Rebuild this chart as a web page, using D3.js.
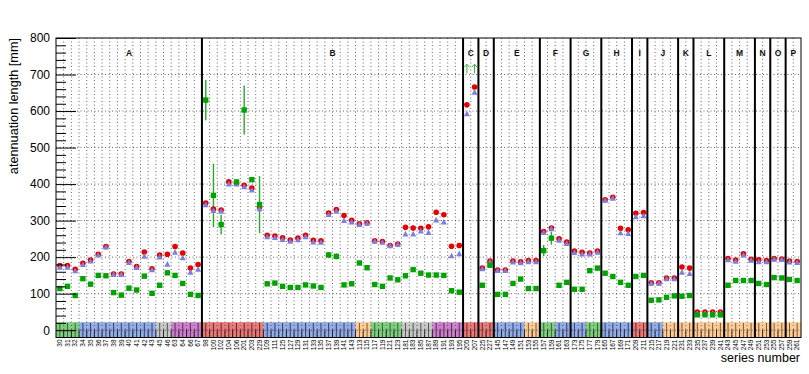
<!DOCTYPE html>
<html><head><meta charset="utf-8">
<script src="https://cdn.jsdelivr.net/npm/d3@7"></script>
<style>body{margin:0;background:#fff}svg{display:block;font-family:"Liberation Sans",Arial,Helvetica,sans-serif}</style>
</head><body><svg id="c" width="809" height="374"></svg>
<script>
const seriesNumbers = [30,31,32,34,35,36,37,38,39,40,41,42,43,45,46,63,64,66,67,
  98,100,102,104,106,201,203,229,109,111,125,127,129,131,133,135,137,139,141,143,113,115,117,119,121,123,181,183,185,187,189,191,193,195,
  205,207,225,227,145,147,149,151,153,155,157,159,161,163,173,175,177,179,165,167,169,171,209,211,215,217,219,221,231,233,235,237,239,241,243,245,247,249,251,253,255,257,259,261];
const groupNames = ["A","B","C","D","E","F","G","H","I","J","K","L","M","N","O","P"];
const groupSizes = [19,34,2,2,6,4,4,4,2,4,2,4,4,2,2,2];
const bandRuns = [["green",3],["blue",10],["gray",2],["purple",4],
  ["red",8],["blue",12],["orange",2],["green",4],["gray",4],["purple",4],
  ["red",2],["red",2],["blue",4],["orange",2],["green",2],["blue",2],["blue",2],["green",2],["blue",4],["red",2],
  ["blue",2],["orange",2],["orange",2],["orange",4],["orange",4],["orange",2],["orange",2],["orange",2]];
const redValues = [177,177,167,183,192,208,229,154,154,188,174,214,168,206,208,229,211,170,180,
  348,332,329,406,402,397,389,337,260,258,253,247,252,260,246,245,321,330,314,301,291,294,245,243,232,236,282,280,279,283,323,316,230,232,
  617,666,170,189,165,165,189,187,191,191,270,280,250,241,217,213,211,217,357,364,279,275,320,322,130,130,143,143,173,170,50,50,50,50,196,192,209,194,193,191,196,195,189,188];
const blueValues = [172,172,162,179,189,205,227,152,152,185,171,202,165,200,180,213,198,158,166,
  343,327,325,400,400,392,383,332,255,253,248,243,247,255,241,240,316,325,300,296,289,292,243,240,231,235,263,263,271,267,301,296,203,209,
  592,651,168,186,163,163,186,184,187,187,267,277,246,237,212,208,208,213,355,361,266,264,310,313,128,128,140,140,158,155,45,45,45,45,192,188,205,191,187,187,194,193,186,185];
const greenValues = [114,120,95,141,126,150,149,103,96,115,110,148,101,123,157,150,128,98,95,
  630,369,289,null,406,603,412,344,127,129,120,117,117,124,121,117,206,202,124,127,184,171,125,120,143,138,149,166,156,151,151,150,108,104,
  null,null,123,178,98,98,128,140,114,114,218,252,123,131,112,112,163,170,156,147,131,123,147,150,82,83,90,94,93,95,42,42,42,42,123,136,136,136,128,125,144,143,139,136];
const greenErrors = [0,0,0,0,0,0,0,0,0,0,0,0,0,0,0,0,0,0,0,
  55,87,27,0,0,67,0,78,0,0,0,0,0,0,0,0,8,8,0,0,0,0,0,0,0,0,0,0,0,0,0,0,0,0,
  0,0,0,8,0,0,0,0,0,0,15,18,0,0,0,0,0,0,0,0,0,0,0,0,0,0,0,0,0,0,0,0,0,0,0,0,0,0,0,0,0,0,0,0,0,0];
const greenOffscale = [205,207];
const yMajorTicks = [0,100,200,300,400,500,600,700,800];

const bandColors = {green:"#80cc80",blue:"#94acE4",gray:"#c8c8c8",purple:"#cc80cc",red:"#e87a7a",orange:"#ffcc99"};
const bandDark = {green:"#2f6a2f",blue:"#2f3f70",gray:"#555",purple:"#5a2a5a",red:"#6a2a2a",orange:"#7a5a30"};

const svg = d3.select("#c");
const L=56,R=801,T=38,B=337.5;
const idx = d3.range(seriesNumbers.length);
const x = d3.scaleBand().domain(idx).range([L,R]).padding(0);
const y = d3.scaleLinear().domain([-20,800]).range([B,T]);
const bw = x.bandwidth();

const bandType = [];
bandRuns.forEach(([c,n])=>{for(let k=0;k<n;k++)bandType.push(c);});

svg.append("g").selectAll("rect").data(idx).join("rect")
  .attr("x",i=>x(i)).attr("width",bw+0.3)
  .attr("y",y(22)).attr("height",B-y(22))
  .attr("fill",i=>bandColors[bandType[i]]);

const grid = svg.append("g").attr("stroke","#333").attr("stroke-width",0.75).attr("stroke-dasharray","1,2.5");
grid.selectAll("line.v").data(idx.slice(1)).join("line")
  .attr("x1",i=>x(i)).attr("x2",i=>x(i)).attr("y1",T).attr("y2",B);
grid.selectAll("line.h").data(yMajorTicks.slice(1,-1)).join("line")
  .attr("x1",L).attr("x2",R).attr("y1",d=>y(d)).attr("y2",d=>y(d));

const bm = svg.append("g");
bm.selectAll("line.c").data(idx).join("line")
  .attr("x1",i=>x(i)+bw/2).attr("x2",i=>x(i)+bw/2).attr("y1",y(20)).attr("y2",B)
  .attr("stroke",i=>bandDark[bandType[i]]).attr("stroke-width",1);
bm.selectAll("line.z").data(idx).join("line")
  .attr("x1",i=>x(i)+1).attr("x2",i=>x(i)+bw-1).attr("y1",y(0)).attr("y2",y(0))
  .attr("stroke",i=>bandDark[bandType[i]]).attr("stroke-width",0.8).attr("stroke-dasharray","1.5,1.5");

const ge = svg.append("g").attr("stroke","#1fae1f").attr("stroke-width",1.4);
ge.selectAll("line").data(idx.filter(i=>greenValues[i]!=null && greenErrors[i]>0)).join("line")
  .attr("x1",i=>x(i)+bw/2).attr("x2",i=>x(i)+bw/2)
  .attr("y1",i=>y(greenValues[i]-greenErrors[i])).attr("y2",i=>y(greenValues[i]+greenErrors[i]));

const arr = svg.append("g").attr("stroke","#33bb33").attr("stroke-width",1).attr("fill","none");
greenOffscale.forEach(s=>{
  const i = seriesNumbers.indexOf(s), cx = x(i)+bw/2;
  arr.append("line").attr("x1",cx).attr("x2",cx).attr("y1",y(703)).attr("y2",y(728));
  arr.append("path").attr("d",`M${cx-2.5},${y(720)}L${cx},${y(728)}L${cx+2.5},${y(720)}`);
});

svg.append("g").selectAll("circle").data(idx.filter(i=>redValues[i]!=null)).join("circle")
  .attr("cx",i=>x(i)+bw/2).attr("cy",i=>y(redValues[i])).attr("r",2.8).attr("fill","#e60000");
svg.append("g").selectAll("path").data(idx.filter(i=>blueValues[i]!=null)).join("path")
  .attr("d",i=>{const cx=x(i)+bw/2,cy=y(blueValues[i]);return `M${cx},${cy-3.4}L${cx+3},${cy+2.3}L${cx-3},${cy+2.3}Z`;})
  .attr("fill","#7e7ee0");
svg.append("g").selectAll("rect").data(idx.filter(i=>greenValues[i]!=null)).join("rect")
  .attr("x",i=>x(i)+bw/2-2.7).attr("y",i=>y(greenValues[i])-2.7).attr("width",5.4).attr("height",5.4)
  .attr("fill","#00a300");

let acc=0;
const sep = svg.append("g");
groupSizes.forEach((n,g)=>{
  const x0 = x(acc), x1 = acc+n<idx.length ? x(acc+n) : R;
  svg.append("text").attr("x",(x0+x1)/2).attr("y",56).attr("text-anchor","middle")
    .attr("font-size",8.5).attr("font-weight","bold").attr("fill","#111").text(groupNames[g]);
  if(g>0) sep.append("line").attr("x1",x0).attr("x2",x0).attr("y1",T).attr("y2",B).attr("stroke","#000").attr("stroke-width",2);
  acc+=n;
});

svg.append("rect").attr("x",L).attr("y",T).attr("width",R-L).attr("height",B-T).attr("fill","none").attr("stroke","#000").attr("stroke-width",1);

const ya = svg.append("g").attr("transform",`translate(${L},0)`)
  .call(d3.axisLeft(y).tickValues(yMajorTicks).tickSizeInner(-20).tickSizeOuter(0).tickPadding(6));
ya.select(".domain").remove();
ya.selectAll("text").attr("font-size",12).attr("fill","#000").attr("font-family","Liberation Sans, Arial, sans-serif");
ya.selectAll("line").attr("stroke","#000");
const yminor = svg.append("g").attr("transform",`translate(${L},0)`)
  .call(d3.axisLeft(y).tickValues(d3.range(0,801,20).filter(v=>v%100!==0)).tickSizeInner(-10).tickSizeOuter(0).tickFormat(""));
yminor.select(".domain").remove();
yminor.selectAll("line").attr("stroke","#000");

const xa = svg.append("g").attr("transform",`translate(0,${B})`)
  .call(d3.axisBottom(x).tickSize(0).tickFormat(i=>seriesNumbers[i]));
xa.select(".domain").remove();
xa.selectAll("text").attr("transform","rotate(-90)").attr("x",-2).attr("y",0).attr("dy","0.35em")
  .attr("text-anchor","end").attr("font-size",6.5).attr("fill","#000").attr("font-family","Liberation Sans, Arial, sans-serif");
svg.append("g").selectAll("line").data(idx.slice(1)).join("line")
  .attr("x1",i=>x(i)).attr("x2",i=>x(i)).attr("y1",B).attr("y2",B-8).attr("stroke","#000").attr("stroke-width",0.8);

svg.append("text").attr("x",800).attr("y",362).attr("text-anchor","end").attr("font-size",12.5).text("series number");
svg.append("text").attr("transform","translate(18,38) rotate(-90)").attr("text-anchor","end").attr("font-size",12.7).text("atennuation length [mm]");
</script></body></html>
